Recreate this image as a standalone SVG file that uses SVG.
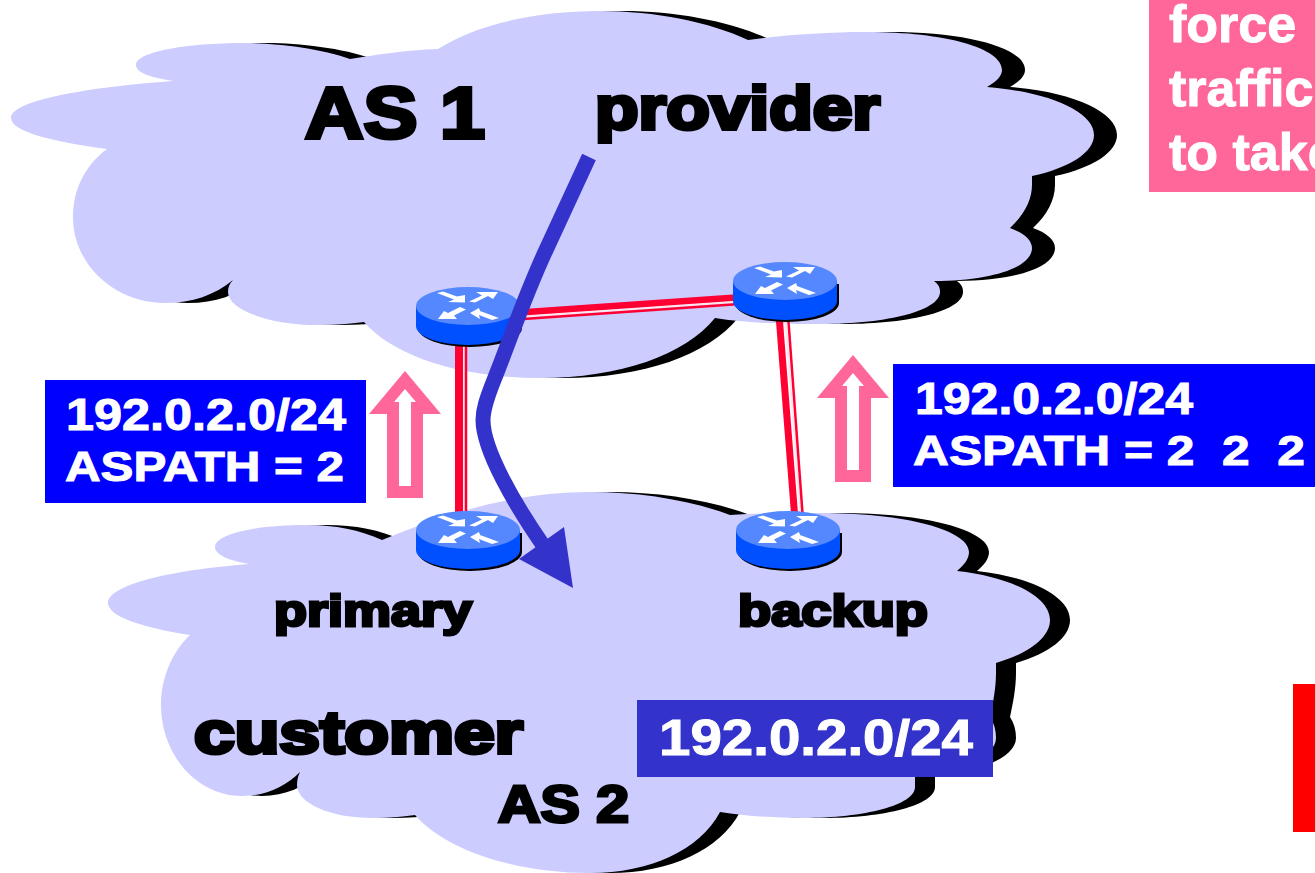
<svg xmlns="http://www.w3.org/2000/svg" width="1315" height="873" viewBox="0 0 1315 873">
<style>
.cloud{fill:#CCCCFF}
.shadow{fill:#000}
.t{font-family:"Liberation Sans",Arial,sans-serif;font-weight:bold}
.k{fill:#000;stroke:#000;stroke-width:3px;paint-order:stroke}
.kb{stroke-width:4px}
.w{fill:#fff;stroke:#fff;stroke-width:1px}
.hollow{fill:#FF6699}
.hole{fill:#fff}
.thick{stroke:#FF0033;fill:none}
.gap{stroke:#FFE6EC;fill:none}
</style>
<defs>
<path id="upper" d="M350 59C320 48 275 43 245 43C185 43 136 52 136 65C136 73 152 78 174 81C90 87 11 100 11 118C11 132 55 142 107 149C85 165 73 190 73 217C73 265 115 303 165 303C192 303 215 295 233 280C229 284 228 288 228 292C228 310 270 325 318 325C335 325 350 324 364 322C395 358 465 378 540 378C620 378 685 355 715 318C745 323 780 324 820 324C890 324 940 310 940 292C940 287 938 284 934 281C990 281 1032 268 1032 248C1032 240 1024 233 1010 228C1024 215 1032 200 1032 185L1032 176C1070 168 1094 152 1094 135C1094 112 1050 92 987 87C996 82 1002 76 1002 70C1002 48 945 32 867 32C825 32 785 35 748 40C710 22 655 11 600 11C535 11 475 25 438 49C405 50 375 55 350 59Z"/>
<path id="lower" d="M382 540C360 530 335 525 307 525C255 525 215 534 215 547C215 555 230 561 250 564C170 570 108 585 108 603C108 617 145 628 190 635C172 652 161 678 161 705C161 755 197 796 242 796C265 796 285 787 300 772C298 776 297 780 297 785C297 803 330 818 373 818C388 818 402 817 415 815C445 850 515 873 590 873C650 873 700 850 720 812C745 816 775 818 803 818C865 818 915 805 915 787C915 783 915 780 915 777C960 772 996 757 996 738C996 730 994 723 990 717C993 703 996 688 996 673L996 663C1030 653 1050 637 1050 620C1050 597 1012 577 957 571C964 565 969 559 969 552C969 530 905 513 820 513C790 513 760 513 730 515C690 500 640 492 590 492C520 492 455 510 382 540Z"/>
<g id="routerIcon">
<ellipse cx="2" cy="22" rx="52" ry="19" fill="#000"/>
<rect x="50" y="3" width="4" height="19" fill="#000"/>
<rect x="-52" y="0" width="104" height="20" fill="#0050FF"/>
<ellipse cx="0" cy="20" rx="52" ry="19" fill="#0050FF"/>
<ellipse cx="0" cy="0" rx="52" ry="19" fill="#5588FF"/>
<polygon fill="#fff" points="-31,-13 -25,-14.5 -11,-9.5 -3,-11 -3,-3.5 -20,-4 -14,-6.5"/>
<polygon fill="#fff" points="1,-4.5 14,-10.5 8,-14 30,-14 25,-7 20,-10 7,-3.5"/>
<polygon fill="#fff" points="-30,13 -24,5 -20,7 -8,1 -2,3.5 -14,9.5 -11,13"/>
<polygon fill="#fff" points="2,7 11,2 12,5 31,12 24,14 11,9 12,13"/>
</g>
</defs>

<g id="cloud-as1">
<use href="#upper" class="shadow" x="23"/>
<use href="#upper" class="cloud"/>
</g>
<g id="cloud-as2">
<use href="#lower" class="shadow" x="20"/>
<use href="#lower" class="cloud"/>
</g>

<g id="connectors">
<line class="thick" x1="459" y1="335" x2="459" y2="520" stroke-width="8"/>
<line class="gap" x1="464" y1="335" x2="464" y2="520" stroke-width="2"/>
<line class="thick" x1="466" y1="335" x2="466" y2="520" stroke-width="2.5"/>
<line class="thick" x1="509" y1="313.5" x2="740" y2="297.5" stroke-width="7"/>
<line class="gap" x1="509" y1="317.5" x2="740" y2="301.5" stroke-width="2"/>
<line class="thick" x1="509" y1="320" x2="740" y2="304" stroke-width="2.5"/>
<line class="thick" x1="779" y1="315" x2="795" y2="520" stroke-width="7"/>
<line class="gap" x1="785" y1="315" x2="801" y2="520" stroke-width="2"/>
<line class="thick" x1="788" y1="315" x2="803" y2="520" stroke-width="2.5"/>
</g>

<g id="router-r1"><use href="#routerIcon" x="468" y="306"/></g>
<g id="router-r2"><use href="#routerIcon" x="785" y="281"/></g>
<g id="router-r3"><use href="#routerIcon" x="468" y="530"/></g>
<g id="router-r4"><use href="#routerIcon" x="788" y="530"/></g>

<g id="traffic-arrow">
<path d="M589 157L546 250C525 295 510 340 494 380C486 400 483 410 483 420C483 450 515 505 545 548" fill="none" stroke="#3333CC" stroke-width="15"/>
<polygon points="573,588 564,527 519,559" fill="#3333CC"/>
</g>

<g id="update-left">
<polygon class="hollow" points="405,371 441,414 423,414 423,498 387,498 387,414 369,414"/>
<polygon class="hole" points="405,389 416,402 411,402 411,486 399,486 399,402 394,402"/>
</g>
<g id="update-right">
<polygon class="hollow" points="853,355 889,398 871,398 871,482 835,482 835,398 817,398"/>
<polygon class="hole" points="853,373 864,386 859,386 859,470 847,470 847,386 842,386"/>
</g>

<g id="label-left">
<rect x="45" y="380" width="321" height="123" fill="#0000FF"/>
<text class="t w" x="66" y="430" font-size="44" textLength="280" lengthAdjust="spacingAndGlyphs">192.0.2.0/24</text>
<text class="t w" x="65" y="481" font-size="43" textLength="279" lengthAdjust="spacingAndGlyphs">ASPATH = 2</text>
</g>
<g id="label-right">
<rect x="893" y="364" width="422" height="123" fill="#0000FF"/>
<text class="t w" x="915" y="414" font-size="44" textLength="278" lengthAdjust="spacingAndGlyphs">192.0.2.0/24</text>
<text class="t w" x="913" y="465" font-size="43" textLength="392" lengthAdjust="spacingAndGlyphs" xml:space="preserve">ASPATH = 2  2  2</text>
</g>
<g id="label-origin">
<rect x="637" y="700" width="356" height="77" fill="#3333CC"/>
<text class="t w" x="659" y="755" font-size="50" textLength="314" lengthAdjust="spacingAndGlyphs">192.0.2.0/24</text>
</g>

<g id="labels">
<text class="t k kb" x="305" y="138" font-size="72" textLength="180" lengthAdjust="spacingAndGlyphs">AS 1</text>
<text class="t k kb" x="595" y="129" font-size="61" textLength="285" lengthAdjust="spacingAndGlyphs">provider</text>
<text class="t k" x="274" y="626" font-size="45" textLength="198" lengthAdjust="spacingAndGlyphs">primary</text>
<text class="t k" x="738" y="626" font-size="45" textLength="190" lengthAdjust="spacingAndGlyphs">backup</text>
<text class="t k kb" x="194" y="753" font-size="60" textLength="329" lengthAdjust="spacingAndGlyphs">customer</text>
<text class="t k" x="498" y="822" font-size="51" textLength="131" lengthAdjust="spacingAndGlyphs">AS 2</text>
</g>

<g id="note-pink">
<rect x="1149" y="0" width="166" height="192" fill="#FF6699"/>
<text class="t w" x="1169" y="42" font-size="52">force</text>
<text class="t w" x="1169" y="106" font-size="52">traffic</text>
<text class="t w" x="1169" y="170" font-size="52">to take</text>
</g>
<g id="note-red">
<rect x="1293" y="684" width="22" height="148" fill="#FF0000"/>
</g>
</svg>
